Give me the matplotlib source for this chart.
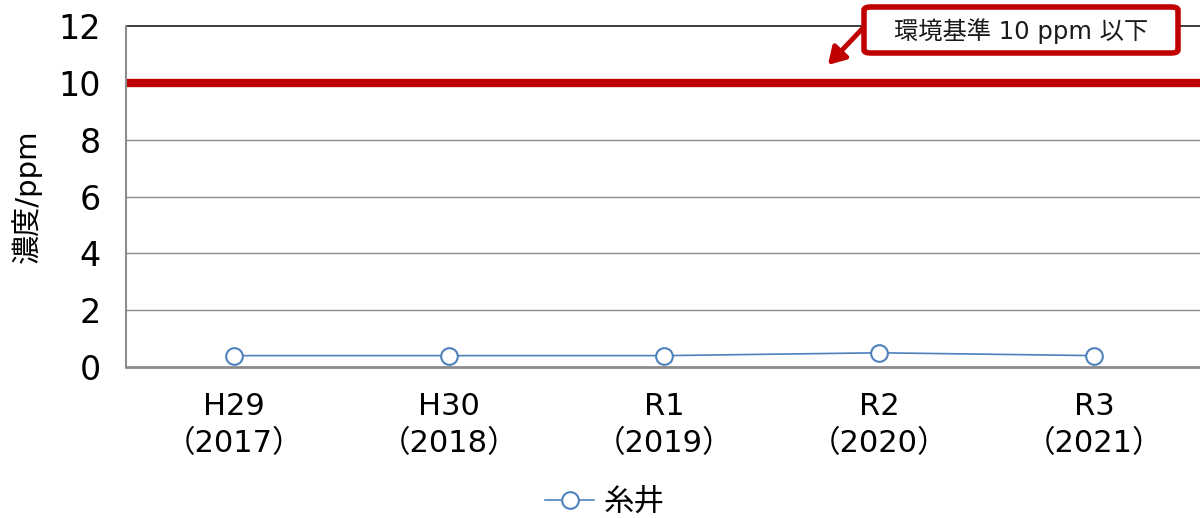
import matplotlib
matplotlib.use("Agg")
import matplotlib.pyplot as plt
from matplotlib.patches import FancyBboxPatch, FancyArrowPatch

plt.rcParams['font.family'] = ['DejaVu Sans', 'Noto Sans CJK JP']

categories = ["H29\n（2017）", "H30\n（2018）", "R1\n（2019）", "R2\n（2020）", "R3\n（2021）"]
values = [0.4, 0.4, 0.4, 0.5, 0.4]
series_name = "糸井"
standard = 10
standard_label = "環境基準 10 ppm 以下"
y_ticks = [0, 2, 4, 6, 8, 10, 12]

fig = plt.figure(figsize=(12, 5.18), dpi=100)
ax = fig.add_axes([126/1200, 1 - 367/518, (1202-126)/1200, (367-26)/518])

x = list(range(len(categories)))
ax.set_xlim(-0.5, len(categories) - 0.5)
ax.set_ylim(0, 12)

for t in [2, 4, 6, 8]:
    ax.axhline(t, color='#8c8c8c', lw=1.0, zorder=1)
ax.axhline(12, color='#1a1a1a', lw=1.2, zorder=1, clip_on=False)
ax.axhline(standard, color='#c00000', lw=6, zorder=2)

line, = ax.plot(x, values, color='#4f81bd', lw=1.2, marker='o', ms=12,
                mfc='white', mec='#4f81bd', mew=1.5, zorder=3, label=series_name)

for s in ['top', 'right']:
    ax.spines[s].set_visible(False)
ax.spines['left'].set_color('#8c8c8c')
ax.spines['left'].set_linewidth(1.5)
ax.spines['bottom'].set_color('#8c8c8c')
ax.spines['bottom'].set_linewidth(2)

ax.set_yticks(y_ticks)
ax.set_yticklabels([str(v) for v in y_ticks], fontsize=24)
ax.set_xticks(x)
ax.set_xticklabels(categories, fontsize=22, linespacing=1.35)
ax.tick_params(axis='both', length=0)
ax.tick_params(axis='y', pad=18)
ax.tick_params(axis='x', pad=18)
ax.set_ylabel("濃度/ppm", fontsize=21, labelpad=12)

# annotation box
bx0, by0, bx1, by1 = 864, 7, 1178, 53
box = FancyBboxPatch((bx0/1200, 1 - by1/518), (bx1-bx0)/1200, (by1-by0)/518,
                     boxstyle='round,pad=0,rounding_size=0.006', transform=fig.transFigure,
                     fc='white', ec='#c00000', lw=4, zorder=5)
fig.patches.append(box)
fig.text((bx0+bx1)/2/1200, 1 - 31/518, standard_label, ha='center', va='center',
         fontsize=17.5, color='#1a1a1a', zorder=6)
fig.patches.append(FancyArrowPatch(
    (864/1200, 1 - 27/518), (826/1200, 1 - 67/518), transform=fig.transFigure,
    arrowstyle='-|>,head_length=10,head_width=6', color='#c00000', lw=3.5,
    mutation_scale=1, zorder=5))

fig.legend(handles=[line], labels=[series_name], loc='center', bbox_to_anchor=(605/1200, 1 - 502/518),
           frameon=False, fontsize=22, handlelength=1.6, handletextpad=0.3)

fig.savefig("out.png", dpi=100)
